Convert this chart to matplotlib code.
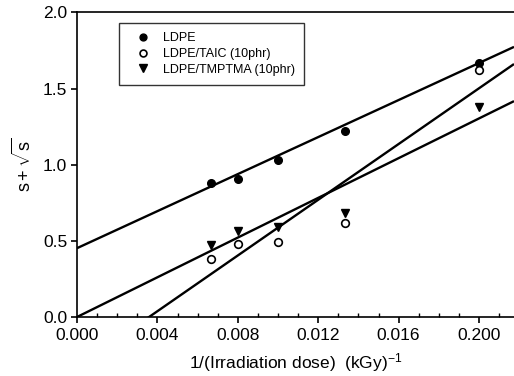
import matplotlib
matplotlib.use("Agg")
import matplotlib.pyplot as plt
import numpy as np
from matplotlib.ticker import MultipleLocator

plt.rcParams['font.family'] = ['Liberation Sans', 'DejaVu Sans']
plt.rcParams['mathtext.fontset'] = 'custom'
plt.rcParams['mathtext.rm'] = 'Liberation Sans'
plt.rcParams['mathtext.it'] = 'Liberation Sans'

# data (1/dose in kGy^-1)
inv_dose = [1/150, 1/125, 1/100, 1/75, 1/50]
ldpe = [0.880, 0.908, 1.028, 1.224, 1.669]
taic = [0.380, 0.478, 0.495, 0.620, 1.620]
tmptma = [0.474, 0.568, 0.594, 0.682, 1.380]

# fitted lines: y = intercept + slope * x
fit_intercepts = [0.452, -0.328, 0.0]
fit_slopes = [60.8, 91.5, 65.2]

xtick_pos = [0.000, 0.004, 0.008, 0.012, 0.016, 0.020]
xtick_labels = ['0.000', '0.004', '0.008', '0.012', '0.016', '0.200']
ytick_pos = [0.0, 0.5, 1.0, 1.5, 2.0]
ytick_labels = ['0.0', '0.5', '1.0', '1.5', '2.0']

fig = plt.figure(figsize=(5.14, 3.76), dpi=100)
ax = fig.add_axes([0.1498, 0.1569, 0.8502, 0.81])

xmax = 0.02174
xs = np.array([0.0, xmax])
for b, m in zip(fit_intercepts, fit_slopes):
    ax.plot(xs, b + m * xs, color='black', lw=1.7, solid_capstyle='butt')

ax.plot(inv_dose, ldpe, 'o', color='black', ms=5.5, label='LDPE', zorder=3)
ax.plot(inv_dose, taic, 'o', mfc='white', mec='black', mew=1.2, ms=5.5,
        label='LDPE/TAIC (10phr)', zorder=3)
ax.plot(inv_dose, tmptma, 'v', color='black', ms=6.3,
        label='LDPE/TMPTMA (10phr)', zorder=3)

ax.set_xlim(0, xmax)
ax.set_ylim(0, 2.0)
ax.spines['right'].set_visible(False)
for s in ['left', 'bottom', 'top']:
    ax.spines[s].set_linewidth(1.2)

ax.set_xticks(xtick_pos)
ax.set_xticklabels(xtick_labels)
ax.set_yticks(ytick_pos)
ax.set_yticklabels(ytick_labels)
ax.xaxis.set_minor_locator(MultipleLocator(0.001))
ax.tick_params(axis='x', which='major', direction='out', length=4, width=1.2,
               labelsize=12.5, pad=4)
ax.tick_params(axis='x', which='minor', direction='in', length=3, width=1)
ax.tick_params(axis='y', which='major', direction='out', length=4, width=1.2,
               labelsize=12.5, pad=3)
ax.tick_params(top=False)

ax.set_xlabel('1/(Irradiation dose)  (kGy)$^{-1}$', fontsize=12.5, labelpad=6)
ax.set_ylabel(r'$\mathrm{s+\sqrt{s}}$', fontsize=13, labelpad=6)

leg = ax.legend(loc='upper left', bbox_to_anchor=(0.096, 0.966), fontsize=9,
                frameon=True, fancybox=False, edgecolor='black',
                borderpad=0.75, labelspacing=0.3, handletextpad=0.45,
                handlelength=2.3, borderaxespad=0, markerscale=0.9)
leg.get_frame().set_linewidth(1.0)

fig.savefig('out.png', dpi=100)
